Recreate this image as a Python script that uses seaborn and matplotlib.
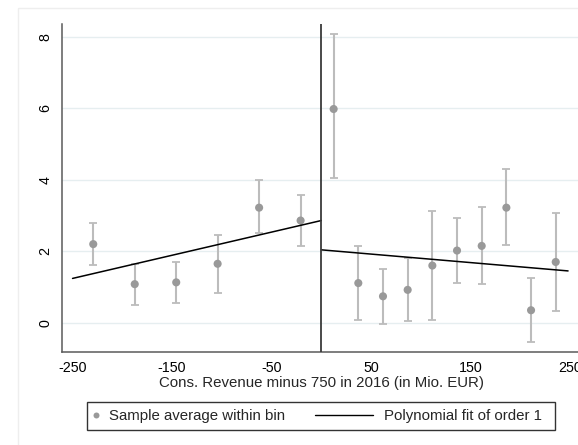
import matplotlib
matplotlib.use('Agg')
import seaborn as sns
from matplotlib import pyplot as plt
from matplotlib.lines import Line2D
from matplotlib.patches import Rectangle

# binned sample averages with confidence bounds, left and right of the cutoff
left_x = [-229.2, -187.5, -145.8, -104.2, -62.5, -20.8]
left_y = [2.20, 1.08, 1.13, 1.65, 3.22, 2.86]
left_lo = [1.61, 0.50, 0.56, 0.84, 2.50, 2.15]
left_hi = [2.80, 1.63, 1.70, 2.45, 3.98, 3.57]

right_x = [12.4, 37.2, 62.0, 86.8, 111.6, 136.4, 161.2, 186.0, 210.8, 235.6]
right_y = [5.98, 1.11, 0.74, 0.92, 1.60, 2.02, 2.15, 3.22, 0.35, 1.70]
right_lo = [4.04, 0.07, -0.03, 0.04, 0.07, 1.11, 1.08, 2.17, -0.55, 0.32]
right_hi = [8.07, 2.16, 1.49, 1.80, 3.14, 2.94, 3.24, 4.30, 1.24, 3.08]

# linear fits on each side
left_fit_x = [-250, 0]
left_fit_y = [1.24, 2.86]
right_fit_x = [0, 248]
right_fit_y = [2.04, 1.45]

x_ticks = [-250, -150, -50, 50, 150, 250]
y_ticks = [0, 2, 4, 6, 8]

sns.set_theme(style='white')
plt.rcParams['font.family'] = ['Liberation Sans', 'DejaVu Sans']

W, H = 578, 445
fig = plt.figure(figsize=(W / 100, H / 100), dpi=100)
ax = fig.add_axes([62.3 / W, 1 - 351.7 / H, (581 - 62.3) / W, (351.7 - 24.3) / H])

# faint outer graph region border
fig.patches.append(Rectangle((17.7 / W, -0.2), 1.2, 1 - 8.3 / H + 0.2, transform=fig.transFigure,
                             fill=False, edgecolor='#eeeeee', lw=1, zorder=0))

point_color = '#999999'
bar_color = '#bcbcbc'

for xs, ys, lo, hi in [(left_x, left_y, left_lo, left_hi), (right_x, right_y, right_lo, right_hi)]:
    yerr = [[y - l for y, l in zip(ys, lo)], [h - y for y, h in zip(ys, hi)]]
    ax.errorbar(xs, ys, yerr=yerr, fmt='none', ecolor=bar_color, elinewidth=1.5,
                capsize=3.2, capthick=1.3, zorder=2)

sns.scatterplot(x=left_x + right_x, y=left_y + right_y, color=point_color, s=34,
                edgecolor='none', ax=ax, zorder=3)
sns.lineplot(x=left_fit_x, y=left_fit_y, color='black', lw=1.1, ax=ax, zorder=4)
sns.lineplot(x=right_fit_x, y=right_fit_y, color='black', lw=1.1, ax=ax, zorder=4)
ax.axvline(0, color='#3a3a3a', lw=1.3, zorder=5)

ax.set_xlim(-260.3, 261)
ax.set_ylim(-0.81, 8.35)
ax.set_xticks(x_ticks)
ax.set_yticks(y_ticks)
ax.set_xticklabels([str(t) for t in x_ticks])
ax.set_yticklabels([str(t) for t in y_ticks], rotation=90, va='center')
ax.yaxis.grid(True, color='#e6eef0', lw=1)
ax.xaxis.grid(False)
ax.set_axisbelow(True)

for side in ['top', 'right']:
    ax.spines[side].set_visible(False)
for side in ['left', 'bottom']:
    ax.spines[side].set_color('#5a5a5a')
    ax.spines[side].set_linewidth(1.1)
ax.tick_params(axis='both', which='major', direction='out', length=3.8, width=1,
               color='#5a5a5a', labelsize=10.3, labelcolor='black')
ax.tick_params(axis='x', pad=3.2)
ax.tick_params(axis='y', pad=3.5)

ax.set_xlabel('Cons. Revenue minus 750 in 2016 (in Mio. EUR)', fontsize=10.8, labelpad=0.5)
ax.set_ylabel('')

# legend: two parts inside one frame
leg_y = 1 - 416 / H
marker_handle = Line2D([], [], marker='o', linestyle='none', color=point_color,
                       markersize=4.3, markeredgewidth=0)
line_handle = Line2D([], [], color='black', lw=1)
leg1 = fig.legend([marker_handle], ['Sample average within bin'], loc='center left',
                  bbox_to_anchor=(90.3 / W, leg_y), frameon=False, fontsize=10.8,
                  handlelength=0.8, handletextpad=0.45, borderpad=0, borderaxespad=0)
leg2 = fig.legend([line_handle], ['Polynomial fit of order 1'], loc='center left',
                  bbox_to_anchor=(314.5 / W, leg_y), frameon=False, fontsize=10.8,
                  handlelength=3.9, handletextpad=0.7, borderpad=0, borderaxespad=0)
fig.patches.append(Rectangle((87 / W, 1 - 430 / H), 468 / W, 28 / H, transform=fig.transFigure,
                             fill=False, edgecolor='#333333', lw=1))

fig.savefig('out.png', dpi=100)
